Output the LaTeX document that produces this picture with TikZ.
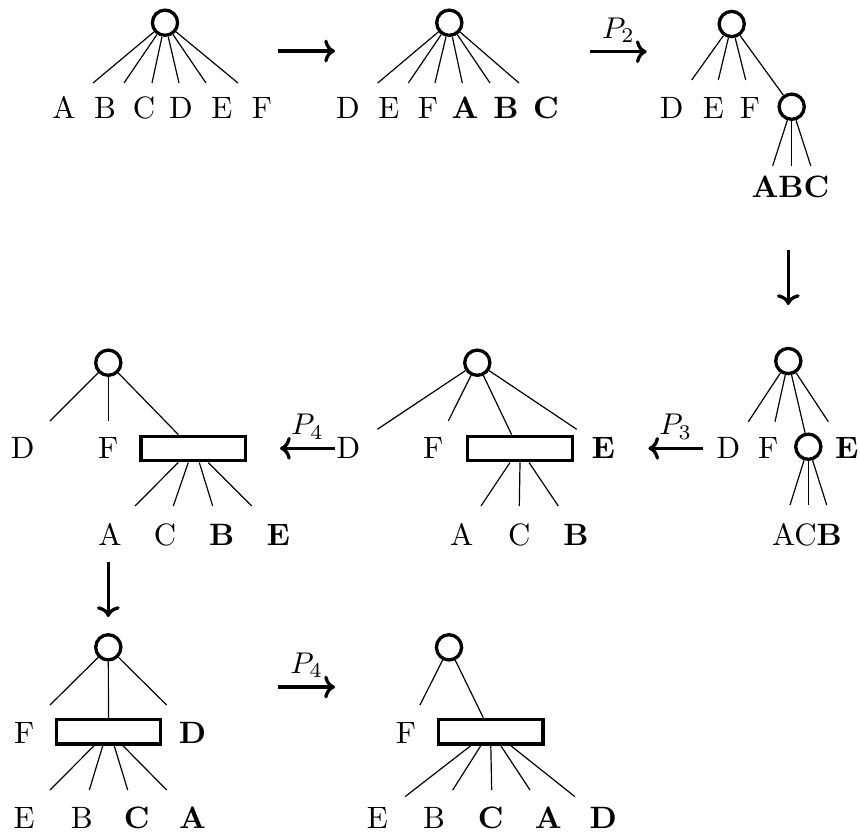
\documentclass[tikz,border=0pt]{standalone}
\usepackage{fontspec}
\usetikzlibrary{arrows.meta}
\begin{document}
\begin{tikzpicture}[x=0.33333pt,y=-0.33333pt,
  txt/.style={font=\fontsize{10.3}{12.4}\selectfont},
  vert/.style={circle,draw,line width=1.1pt,minimum size=8.4pt,inner sep=0pt},
  blk/.style={draw,line width=1.1pt,inner sep=0pt,minimum width=34.8pt,minimum height=8.2pt},
  lf/.style={txt,anchor=base,inner sep=0pt},
  twig/.style={line width=0.4pt},
  arr/.style={line width=1.1pt,-{To[length=3.6pt,width=7.6pt]}},
  lbl/.style={txt,above=2.5pt,inner sep=0pt}]
\useasboundingbox (0,0) rectangle (860,833);

% ---- tree 1: flat root over A..F
\node[vert] (r1) at (165,22.7) {};
\foreach \n/\lx/\ex/\t in {a/64/93/A,b/105/124/B,c/144/152/C,d/181/179/D,e/222/206/E,f/262/238/F}{
  \node[lf] (l1\n) at (\lx,118) {\t};
  \coordinate (e1\n) at (\ex,83);
  \draw[twig] (r1) -- (e1\n);
}

% ---- tree 2: reordered leaves
\node[vert] (r2) at (449.3,22.7) {};
\foreach \n/\lx/\ex/\t in {d/348/377.7/D,e/389/408.3/E,f/428/435/F,a/465/462.3/\textbf{A},b/506/490/\textbf{B},c/546/519/\textbf{C}}{
  \node[lf] (l2\n) at (\lx,118) {\t};
  \coordinate (e2\n) at (\ex,83);
  \draw[twig] (r2) -- (e2\n);
}

% ---- tree 3: root with a child vertex
\node[vert] (r3) at (731.7,24) {};
\node[vert] (c3) at (791.7,106.7) {};
\foreach \n/\lx/\ex/\t in {d/671.7/691.7/D,e/713.3/718.3/E,f/750/745.7/F}{
  \node[lf] (l3\n) at (\lx,118) {\t};
  \coordinate (e3\n) at (\ex,80);
  \draw[twig] (r3) -- (e3\n);
}
\draw[twig] (r3) -- (c3);
\foreach \n/\ex in {a/772.7,b/791.7,c/810.7}{
  \coordinate (f3\n) at (\ex,165.7);
  \draw[twig] (c3) -- (f3\n);
}
\node[lf] (l3abc) at (790.5,197) {\textbf{ABC}};

% ---- tree 4: right of the middle row
\node[vert] (r4) at (788.3,361) {};
\node[vert] (c4) at (808.3,446.7) {};
\foreach \n/\lx/\ex/\t in {d/728.3/748.3/D,f/768.3/775/F,e/846.7/828.3/\textbf{E}}{
  \node[lf] (l4\n) at (\lx,458.3) {\t};
  \coordinate (e4\n) at (\ex,421.7);
  \draw[twig] (r4) -- (e4\n);
}
\draw[twig] (r4) -- (c4);
\foreach \n/\ex in {a/790,c/808.3,b/826.7}{
  \coordinate (f4\n) at (\ex,505);
  \draw[twig] (c4) -- (f4\n);
}
\node[lf] (l4acb) at (807,545) {AC\textbf{B}};

% ---- tree 5: middle of the middle row
\node[vert] (r5) at (477.3,362.7) {};
\node[blk] (b5) at (520,448.5) {};
\node[lf] (l5d) at (348.3,458.3) {D};
\node[lf] (l5f) at (433.3,458.3) {F};
\node[lf] (l5e) at (603.3,458.3) {\textbf{E}};
\coordinate (e5d) at (377.3,429.3);
\coordinate (e5f) at (448.3,421);
\coordinate (e5e) at (576.7,429.3);
\draw[twig] (r5) -- (e5d);
\draw[twig] (r5) -- (e5f);
\draw[twig] (r5) -- ([xshift=-2.8pt]b5.north);
\draw[twig] (r5) -- (e5e);
\foreach \n/\s/\ex/\lx/\t in {a/-3.33/481/461.7/A,c/0/519.3/519.3/C,b/3/558.3/576/\textbf{B}}{
  \coordinate (f5\n) at (\ex,506);
  \draw[twig] ([xshift=\s pt]b5.south) -- (f5\n);
  \node[lf] (m5\n) at (\lx,545) {\t};
}

% ---- tree 6: left of the middle row
\node[vert] (r6) at (108.3,362.7) {};
\node[blk] (b6) at (193.3,448.5) {};
\node[lf] (l6d) at (22.7,458.3) {D};
\node[lf] (l6f) at (108.3,458.3) {F};
\coordinate (e6d) at (50,421);
\coordinate (e6f) at (108.3,421);
\draw[twig] (r6) -- (e6d);
\draw[twig] (r6) -- (e6f);
\draw[twig] (r6) -- ([xshift=-5pt]b6.north);
\foreach \n/\s/\ex/\lx/\t in {a/-5/135/110/A,c/-1.67/173.3/165/C,b/2/212.7/221.7/\textbf{B},e/5/251.7/278.3/\textbf{E}}{
  \coordinate (f6\n) at (\ex,506);
  \draw[twig] ([xshift=\s pt]b6.south) -- (f6\n);
  \node[lf] (m6\n) at (\lx,545) {\t};
}

% ---- tree 7: bottom left
\node[vert] (r7) at (108.3,647.3) {};
\node[blk] (b7) at (108.5,731.7) {};
\node[lf] (l7f) at (24.2,743.3) {F};
\node[lf] (l7d) at (192.5,743.3) {\textbf{D}};
\coordinate (e7f) at (50,705);
\coordinate (e7d) at (166.7,705);
\draw[twig] (r7) -- (e7f);
\draw[twig] (r7) -- (b7);
\draw[twig] (r7) -- (e7d);
\foreach \n/\s/\ex/\lx/\t in {e/-4.8/50/24.2/E,b/-1.9/89.3/81.7/B,c/1.9/127.7/136.7/\textbf{C},a/4.8/166.7/192.5/\textbf{A}}{
  \coordinate (f7\n) at (\ex,790);
  \draw[twig] ([xshift=\s pt]b7.south) -- (f7\n);
  \node[lf] (m7\n) at (\lx,828) {\t};
}

% ---- tree 8: bottom middle
\node[vert] (r8) at (449,647.3) {};
\node[blk] (b8) at (490.8,731.7) {};
\node[lf] (l8f) at (406,743.3) {F};
\coordinate (e8f) at (420,705);
\draw[twig] (r8) -- (e8f);
\draw[twig] (r8) -- ([xshift=-2.5pt]b8.north);
\foreach \n/\s/\ex/\ey/\lx/\t in {e/-6.67/405/796.7/377.3/E,b/-3.33/452.7/790/434/B,c/0/491.7/790/490.7/\textbf{C},a/3.33/530/790/548.3/\textbf{A},d/6.67/575/796.7/603.3/\textbf{D}}{
  \coordinate (f8\n) at (\ex,\ey);
  \draw[twig] ([xshift=\s pt]b8.south) -- (f8\n);
  \node[lf] (m8\n) at (\lx,828) {\t};
}

% ---- steps between the trees
\coordinate (s1) at (278,51);      \coordinate (t1) at (335,51);
\coordinate (s2) at (590,51.7);    \coordinate (t2) at (646.7,51.7);
\coordinate (s3) at (788.3,250);   \coordinate (t3) at (788.3,305);
\coordinate (s4) at (703.3,448.3); \coordinate (t4) at (648.3,448.3);
\coordinate (s5) at (335,448.3);   \coordinate (t5) at (280,448.3);
\coordinate (s6) at (108.3,561.5); \coordinate (t6) at (108.3,617);
\coordinate (s7) at (278.3,687);   \coordinate (t7) at (335,687);
\draw[arr] (s1) -- (t1);
\draw[arr] (s2) -- node[lbl] {$P_2$} (t2);
\draw[arr] (s3) -- (t3);
\draw[arr] (s4) -- node[lbl] {$P_3$} (t4);
\draw[arr] (s5) -- node[lbl] {$P_4$} (t5);
\draw[arr] (s6) -- (t6);
\draw[arr] (s7) -- node[lbl] {$P_4$} (t7);
\end{tikzpicture}
\end{document}
